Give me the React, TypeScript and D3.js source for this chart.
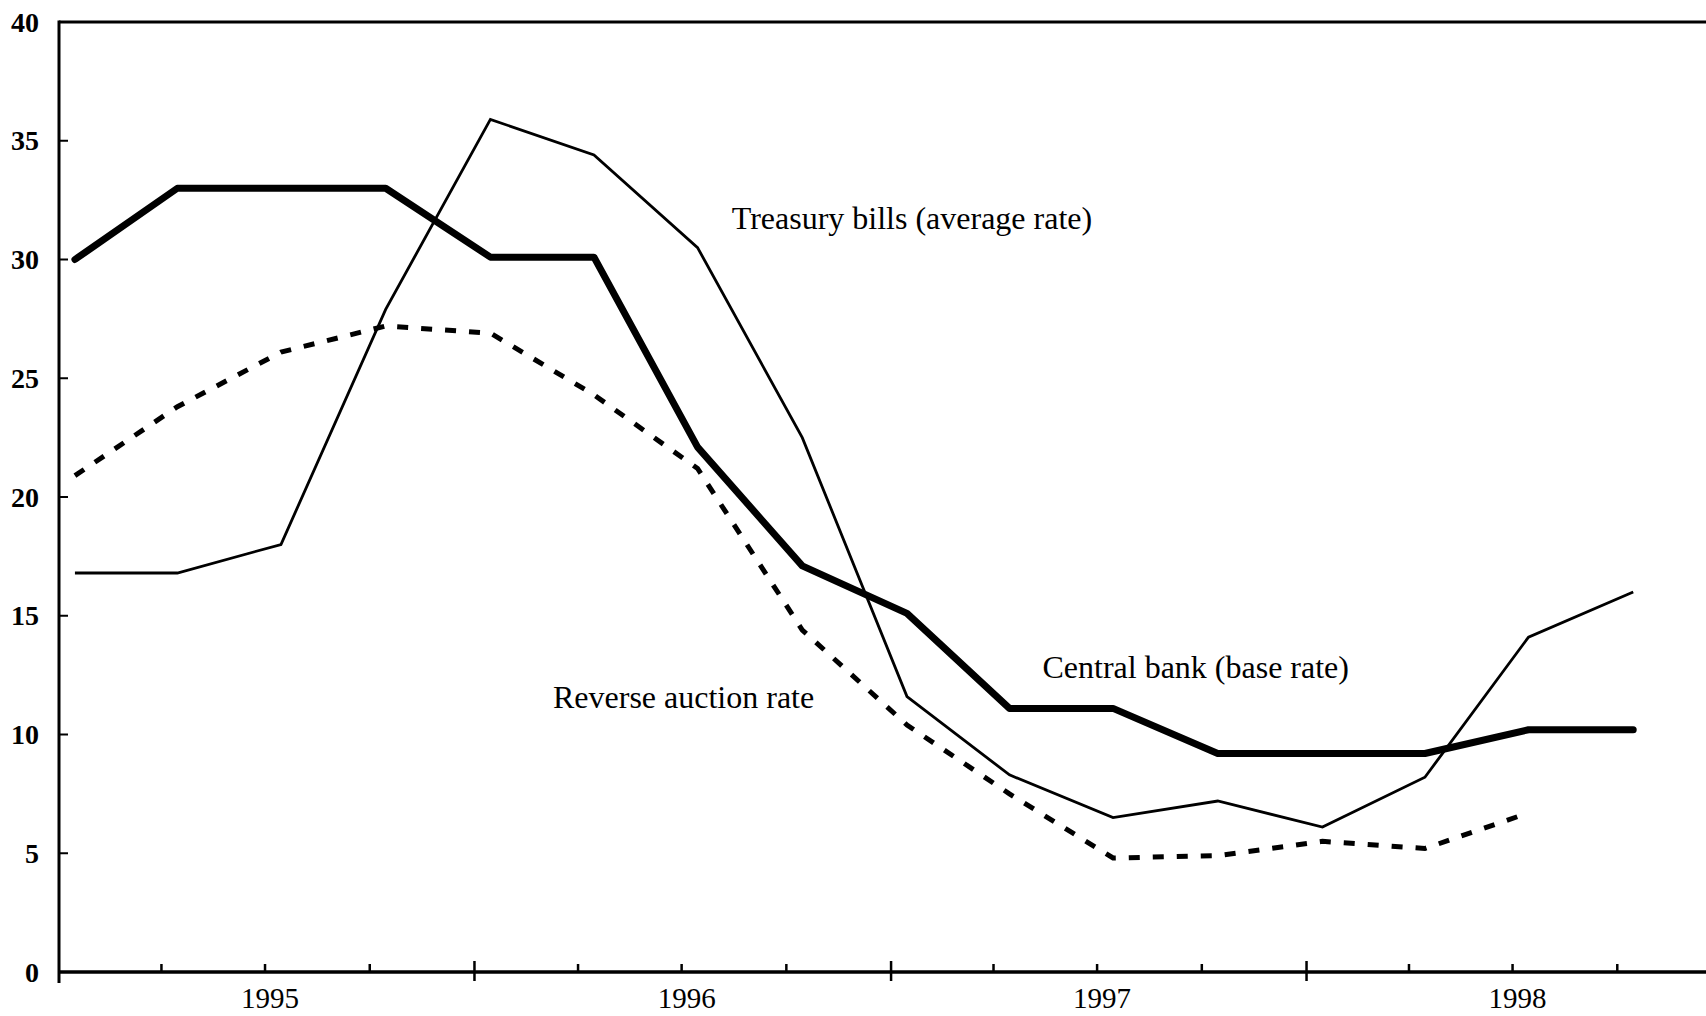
import React from "react";
import * as d3 from "d3";

const width = 1706;
const height = 1016;

// quarterly observations, 1995 Q1 .. 1998 Q4
const quarters = [
  "1995Q1", "1995Q2", "1995Q3", "1995Q4",
  "1996Q1", "1996Q2", "1996Q3", "1996Q4",
  "1997Q1", "1997Q2", "1997Q3", "1997Q4",
  "1998Q1", "1998Q2", "1998Q3", "1998Q4",
];
const treasuryBills = [16.8, 16.8, 18.0, 27.9, 35.9, 34.4, 30.5, 22.5, 11.6, 8.3, 6.5, 7.2, 6.1, 8.2, 14.1, 16.0];
const centralBank = [30.0, 33.0, 33.0, 33.0, 30.1, 30.1, 22.1, 17.1, 15.1, 11.1, 11.1, 9.2, 9.2, 9.2, 10.2, 10.2];
const reverseAuction = [20.9, 23.8, 26.1, 27.2, 26.9, 24.3, 21.2, 14.4, 10.4, 7.5, 4.8, 4.9, 5.5, 5.2, 6.7];
const years = [1995, 1996, 1997, 1998];
const yTicks = [0, 5, 10, 15, 20, 25, 30, 35, 40];

// annotation anchors: date of text start, value of baseline
const labels = [
  { text: "Treasury bills (average rate)", date: new Date(1996, 7, 14), v: 31.3 },
  { text: "Central bank (base rate)", date: new Date(1997, 4, 14), v: 12.4 },
  { text: "Reverse auction rate", date: new Date(1996, 2, 10), v: 11.1 },
];

const qDate = (q: string) => new Date(+q.slice(0, 4), (+q.slice(5) - 1) * 3, 15);

const x = d3
  .scaleTime()
  .domain([new Date(1995, 0, 1), new Date(1999, 0, 1)])
  .range([59, 1722]);
const y = d3.scaleLinear().domain([0, 40]).range([972, 22]);

const line = d3
  .line<number>()
  .x((d, i) => x(qDate(quarters[i])))
  .y((d) => y(d));

const font = "'Liberation Serif', 'Times New Roman', serif";

export default function App() {
  const qTicks = d3.timeMonth.every(3)!.range(new Date(1995, 0, 1), new Date(1999, 0, 1));
  const x0 = x.range()[0];
  return (
    <svg
      width={width}
      height={height}
      style={{ position: "absolute", left: 0, top: 0, background: "#fff" }}
      fontFamily={font}
    >
      {/* frame */}
      <line x1={x0} x2={width} y1={y(40)} y2={y(40)} stroke="#000" strokeWidth={3} />
      <line x1={x0} x2={x0} y1={y(40) - 1.5} y2={y(0) + 11} stroke="#000" strokeWidth={3} />
      <line x1={x0} x2={width} y1={y(0)} y2={y(0)} stroke="#000" strokeWidth={3.5} />

      {/* y ticks */}
      {yTicks.map((t) => (
        <g key={t}>
          {t > 0 && t < 40 && (
            <line x1={x0} x2={x0 + 9} y1={y(t)} y2={y(t)} stroke="#000" strokeWidth={2} />
          )}
          <text
            x={39}
            y={y(t)}
            textAnchor="end"
            dominantBaseline="central"
            fontSize={28}
            fontWeight="bold"
          >
            {t}
          </text>
        </g>
      ))}

      {/* x ticks */}
      {qTicks.map((d, i) => {
        if (i === 0) return null;
        const major = d.getMonth() === 0;
        return (
          <line
            key={i}
            x1={x(d)}
            x2={x(d)}
            y1={y(0) - (major ? 11 : 8)}
            y2={y(0) + (major ? 9 : 0)}
            stroke="#000"
            strokeWidth={2.5}
          />
        );
      })}
      {years.map((yr) => (
        <text
          key={yr}
          x={x(new Date(yr, 6, 1)) + 5}
          y={1008}
          textAnchor="middle"
          fontSize={29}
        >
          {yr}
        </text>
      ))}

      {/* series */}
      <path
        d={line(reverseAuction) ?? ""}
        fill="none"
        stroke="#000"
        strokeWidth={5}
        strokeDasharray="11 13"
      />
      <path
        d={line(treasuryBills) ?? ""}
        fill="none"
        stroke="#000"
        strokeWidth={2.8}
        strokeLinejoin="miter"
      />
      <path
        d={line(centralBank) ?? ""}
        fill="none"
        stroke="#000"
        strokeWidth={7}
        strokeLinecap="round"
        strokeLinejoin="round"
      />

      {labels.map((l) => (
        <text key={l.text} x={x(l.date)} y={y(l.v)} fontSize={32}>
          {l.text}
        </text>
      ))}
    </svg>
  );
}
